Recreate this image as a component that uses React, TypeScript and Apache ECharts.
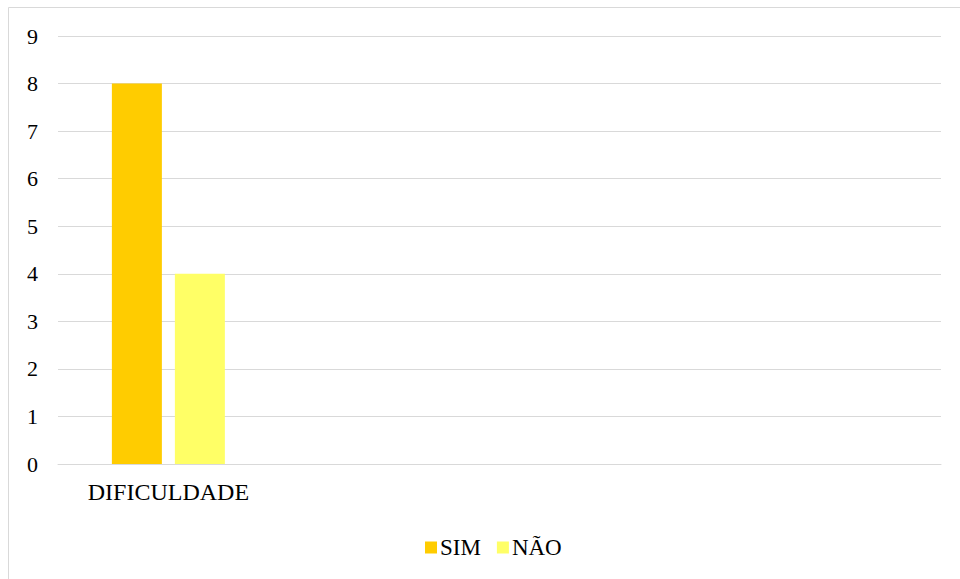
import React, { useEffect, useRef } from "react";
import * as echarts from "echarts";

const categories = ["DIFICULDADE", "", "", ""];
const simValues: (number | string)[] = [8, "-", "-", "-"];
const naoValues: (number | string)[] = [4, "-", "-", "-"];
const seriesNames = ["SIM", "NÃO"];
const yTicks = { min: 0, max: 9, interval: 1 };

const FONT = "Liberation Serif";

export default function App() {
  const ref = useRef<HTMLDivElement>(null);
  useEffect(() => {
    document.body.style.margin = "0";
    const chart = echarts.init(ref.current!, undefined, { renderer: "svg" });
    chart.setOption({
      animation: false,
      backgroundColor: "#ffffff",
      textStyle: { fontFamily: FONT },
      graphic: [
        {
          type: "rect",
          shape: { x: 8.5, y: 7.5, width: 1000, height: 1000 },
          style: { fill: "none", stroke: "#d9d9d9", lineWidth: 1 },
          silent: true,
        },
      ],
      grid: { left: 58, right: 19, top: 36, bottom: 115, containLabel: false },
      legend: {
        data: seriesNames,
        left: 420,
        top: 531,
        itemWidth: 12,
        itemHeight: 12,
        itemGap: 16,
        icon: "rect",
        textStyle: { fontFamily: FONT, fontSize: 23, color: "#000", padding: [0, 0, 0, -2] },
      },
      xAxis: {
        type: "category",
        data: categories,
        axisLine: { show: true, lineStyle: { color: "#d9d9d9", width: 1 } },
        axisTick: { show: false },
        axisLabel: { fontFamily: FONT, fontSize: 24, color: "#000", margin: 16, interval: 0 },
        splitLine: { show: false },
      },
      yAxis: {
        type: "value",
        min: yTicks.min,
        max: yTicks.max,
        interval: yTicks.interval,
        axisLine: { show: false },
        axisTick: { show: false },
        axisLabel: { fontFamily: FONT, fontSize: 22, color: "#000", margin: 20 },
        splitLine: { lineStyle: { color: "#d9d9d9", width: 1 } },
      },
      series: [
        {
          name: seriesNames[0],
          type: "bar",
          data: simValues,
          barWidth: 50,
          barGap: "26%",
          itemStyle: { color: "#FFCC00" },
        },
        {
          name: seriesNames[1],
          type: "bar",
          data: naoValues,
          barWidth: 50,
          barGap: "26%",
          itemStyle: { color: "#FFFF66" },
        },
      ],
    });
    return () => chart.dispose();
  }, []);
  return <div ref={ref} style={{ width: 960, height: 579 }} />;
}
